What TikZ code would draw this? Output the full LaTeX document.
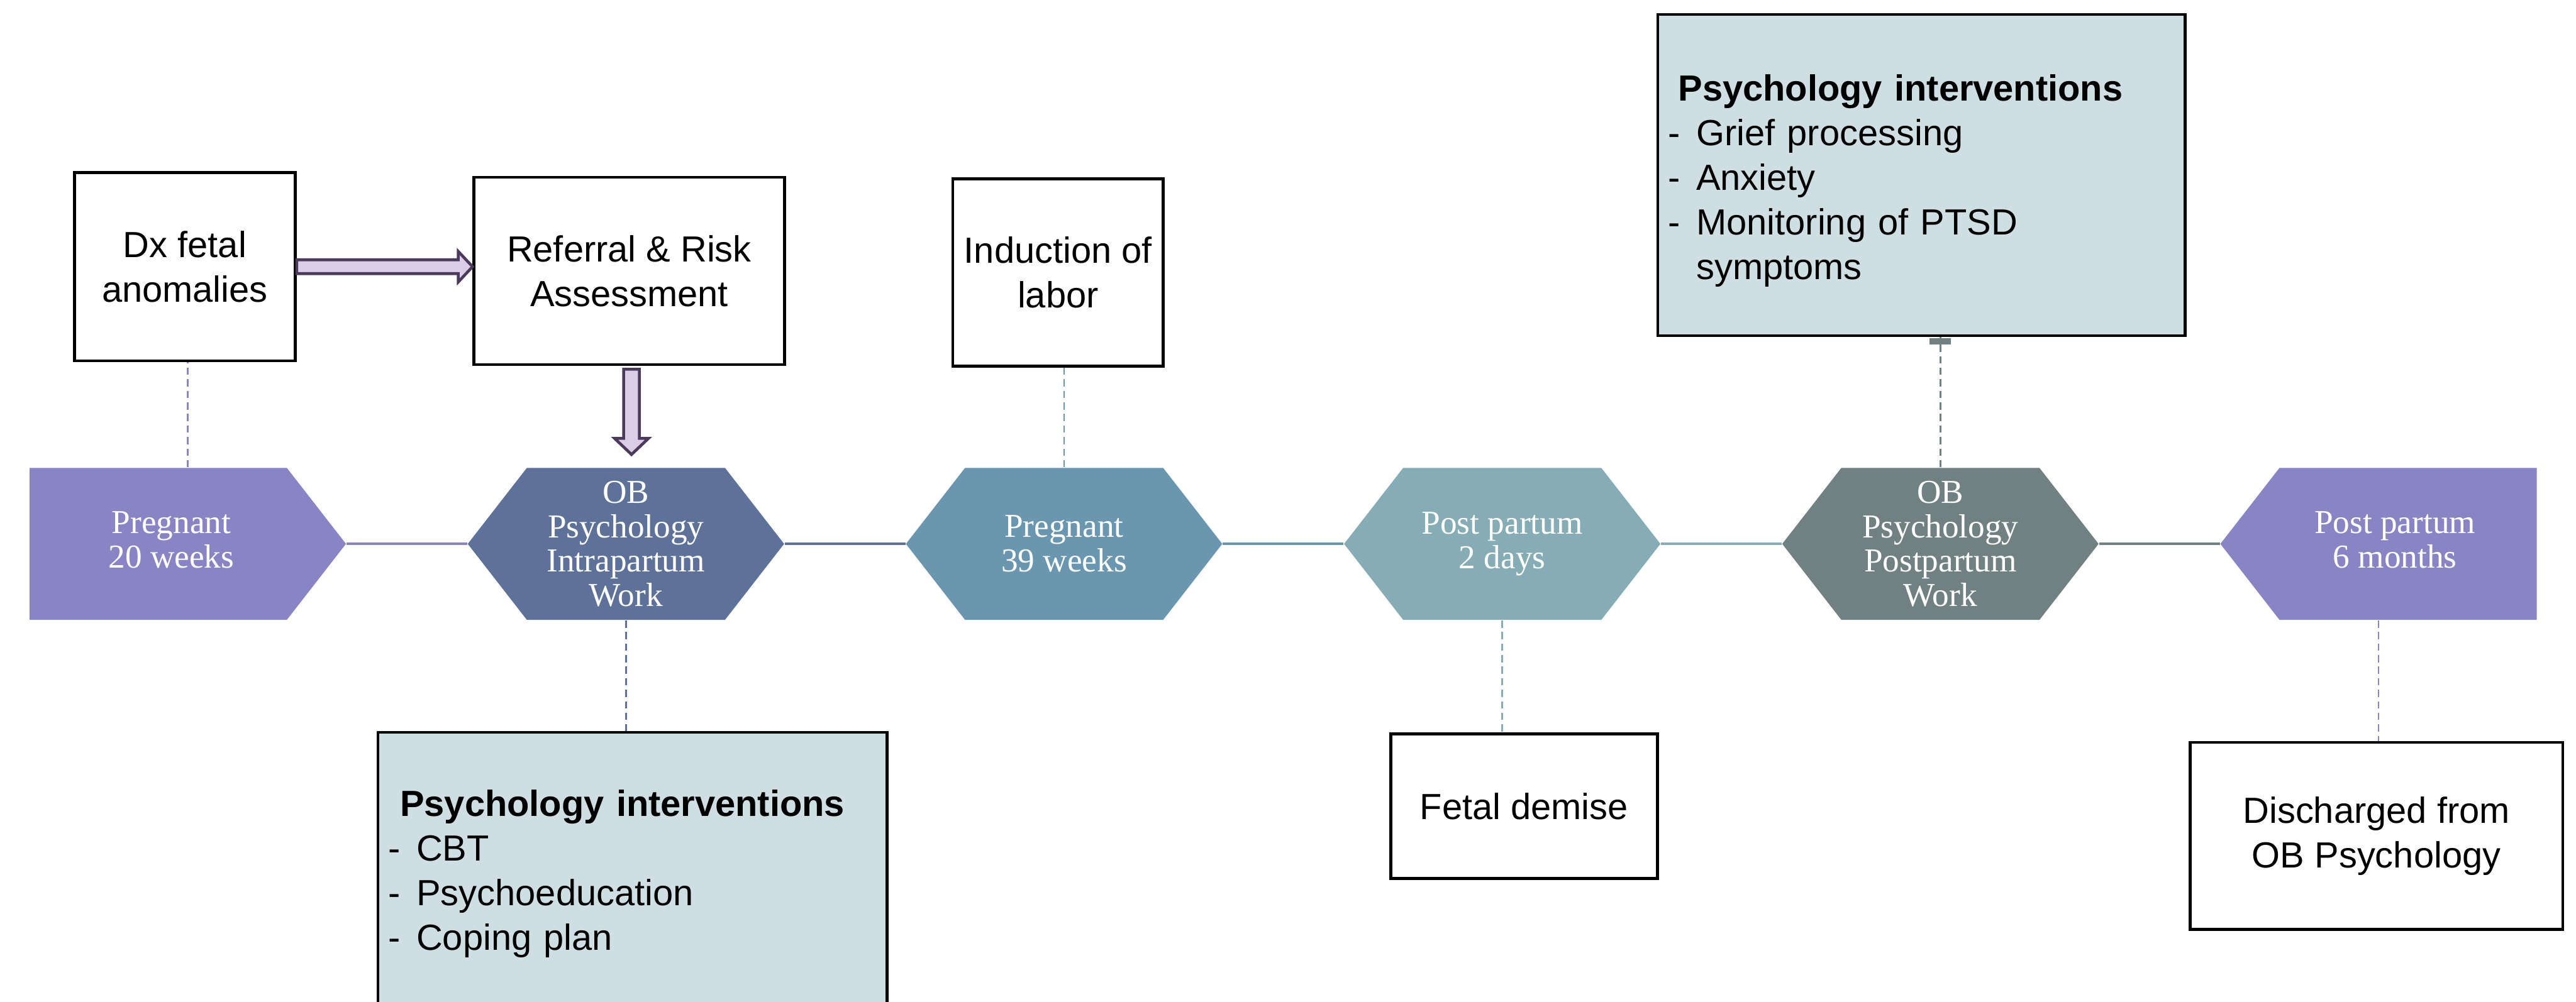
\documentclass[tikz,border=0pt]{standalone}
\usepackage{fontspec}
\newfontfamily\boxfont{Liberation Sans}
\newfontfamily\hexfont{Liberation Serif}
\usepackage{tikz}
\usetikzlibrary{calc,positioning}
\definecolor{hexpurple}{RGB}{137,133,196}
\definecolor{hexslate}{RGB}{94,114,153}
\definecolor{hexteal}{RGB}{106,151,175}
\definecolor{hexmint}{RGB}{134,172,181}
\definecolor{hexgrey}{RGB}{113,129,129}
\definecolor{myboxblue}{RGB}{206,222,227}
\definecolor{arrowfill}{RGB}{220,205,230}
\definecolor{arrowline}{RGB}{75,58,92}

\begin{document}
\begin{tikzpicture}[
  x=0.02cm,
  y=-0.02cm,
  hexbase/.style={
    minimum width=3.852cm,
    minimum height=1.852cm,
    inner sep=0pt,
    text=white,
    align=center,
    font=\hexfont\fontsize{11.6}{11.95}\selectfont
    },
  hexmid/.style={
    hexbase,
    path picture={
      \fill[#1] (path picture bounding box.west)
        -- ([xshift=0.72cm]path picture bounding box.north west)
        -- ([xshift=-0.72cm]path picture bounding box.north east)
        -- (path picture bounding box.east)
        -- ([xshift=-0.72cm]path picture bounding box.south east)
        -- ([xshift=0.72cm]path picture bounding box.south west)
        -- cycle;
      }
    },
  hexstart/.style={
    hexbase,
    path picture={
      \fill[#1] (path picture bounding box.north west)
        -- ([xshift=-0.72cm]path picture bounding box.north east)
        -- (path picture bounding box.east)
        -- ([xshift=-0.72cm]path picture bounding box.south east)
        -- (path picture bounding box.south west)
        -- cycle;
      }
    },
  hexend/.style={
    hexbase,
    path picture={
      \fill[#1] (path picture bounding box.west)
        -- ([xshift=0.72cm]path picture bounding box.north west)
        -- (path picture bounding box.north east)
        -- (path picture bounding box.south east)
        -- ([xshift=0.72cm]path picture bounding box.south west)
        -- cycle;
      }
    },
  infobox/.style={
    draw,
    line width=1pt,
    fill=white,
    align=center,
    inner sep=2pt,
    font=\boxfont\fontsize{12.6}{15.5}\selectfont
    },
  pibox/.style={
    infobox,
    fill=myboxblue,
    align=left,
    text width=#1,
    inner xsep=0.13cm
    },
  dashline/.style={line width=0.6pt, dash pattern=on 2.5pt off 1.5pt},
  chainline/.style={line width=0.9pt},
  bigarrow/.style={draw=arrowline, fill=arrowfill, line width=1pt, line join=miter}
]
\useasboundingbox (0,0) rectangle (1568,610);

% timeline
\node[hexstart=hexpurple] (h1) at (114.3,331.2)
  {\begin{tabular}{@{}c@{}}Pregnant\\20 weeks\end{tabular}\hspace*{0.4cm}};
\node[hexmid=hexslate] (h2) at (381,331.2) {OB\\Psychology\\Intrapartum\\Work};
\node[hexmid=hexteal] (h3) at (647.7,331.2) {Pregnant\\39 weeks};
\node[hexmid=hexmint] (h4) at (914.4,331.2) {Post partum\\2 days};
\node[hexmid=hexgrey] (h5) at (1181.1,331.2) {OB\\Psychology\\Postpartum\\Work};
\node[hexend=hexpurple] (h6) at (1447.8,331.2)
  {\hspace*{0.4cm}\begin{tabular}{@{}c@{}}Post partum\\6 months\end{tabular}};

\foreach \a/\b/\c in {h1/h2/hexpurple, h2/h3/hexslate, h3/h4/hexteal, h4/h5/hexmint, h5/h6/hexgrey}
  \draw[chainline, \c] (\a.east) -- (\b.west);

% boxes
\node[infobox, minimum width=2.69cm, minimum height=2.294cm] (dx) at (112.5,162.4) {Dx fetal\\anomalies};
\node[infobox, minimum width=3.78cm, minimum height=2.28cm] (ref) at (383,165) {Referral \& Risk\\Assessment};
\node[infobox, minimum width=2.56cm, minimum height=2.28cm] (labor) at (644,166) {Induction of\\labor};
\node[infobox, minimum width=3.25cm, minimum height=1.76cm] (demise) at (927.7,491) {Fetal demise};
\node[infobox, minimum width=4.54cm, minimum height=2.28cm] (discharge) at (1446.5,509) {Discharged from\\OB Psychology};

\node[pibox=6.16cm, minimum height=3.912cm] (pitop) at (1169.5,106.6)
  {\rule{0pt}{13pt}\hspace*{0.12cm}\textbf{Psychology interventions}\\
   \makebox[0.34cm][l]{-}Grief processing\\
   \makebox[0.34cm][l]{-}Anxiety\\
   \makebox[0.34cm][l]{-}Monitoring of PTSD\\
   \hspace*{0.34cm}symptoms};
\node[pibox=5.94cm, minimum height=3.4cm] (pibot) at (385,531)
  {\rule{0pt}{10.5pt}\hspace*{0.14cm}\textbf{Psychology interventions}\\
   \makebox[0.34cm][l]{-}CBT\\
   \makebox[0.34cm][l]{-}Psychoeducation\\
   \makebox[0.34cm][l]{-}Coping plan};

% dashed links
\draw[dashline, hexpurple] (h1.north) -- (h1.north |- dx.south);
\draw[dashline, hexslate] (h2.south) -- (h2.south |- pibot.north);
\draw[dashline, hexteal] (h3.north) -- (h3.north |- labor.south);
\draw[dashline, hexmint] (h4.south) -- (h4.south |- demise.north);
\draw[dashline, hexgrey] (h5.north) -- (h5.north |- pitop.south);
\draw[dashline, hexpurple] (h6.south) -- (h6.south |- discharge.north);
\fill[hexgrey] ($(h5.north |- pitop.south)+(-6.5,0.5)$) rectangle ++(13,4);

% block arrows
\coordinate (tipA) at (dx.east -| ref.west);
\draw[bigarrow] ($(dx.east)+(0,-4.2)$) -- ($(tipA)+(-8.7,-4.2)$) -- ++(0,-5.1)
  -- (tipA) -- ($(tipA)+(-8.7,9.3)$) -- ++(0,-5.1) -- ($(dx.east)+(0,4.2)$) -- cycle;
\coordinate (topB) at ($(ref.south)+(1.4,2)$);
\coordinate (tipB) at ($(topB |- h2.north)+(0,-7.8)$);
\draw[bigarrow] ($(topB)+(-4.8,0)$) -- ($(tipB)+(-4.8,-9.8)$) -- ++(-5.5,0)
  -- (tipB) -- ($(tipB)+(10.3,-9.8)$) -- ++(-5.5,0) -- ($(topB)+(4.8,0)$) -- cycle;

\end{tikzpicture}
\end{document}
